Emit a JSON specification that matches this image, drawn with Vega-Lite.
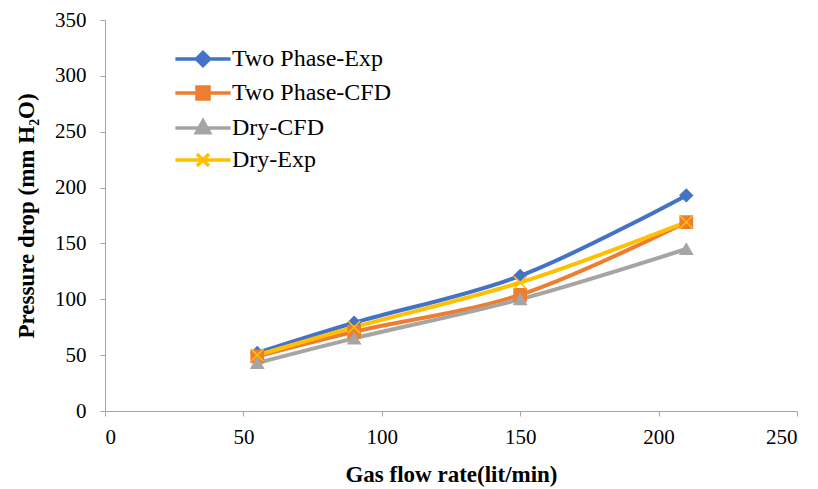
{
  "$schema": "https://vega.github.io/schema/vega-lite/v6.json",
  "width": 692,
  "height": 391,
  "autosize": {"type": "none"},
  "padding": {"left": 105, "top": 20, "right": 21, "bottom": 78},
  "background": "white",
  "config": {
    "view": {"stroke": null},
    "font": "Liberation Serif",
    "axis": {
      "grid": false,
      "domainColor": "#a6a6a6",
      "tickColor": "#a6a6a6",
      "domainWidth": 1,
      "tickSize": 5,
      "labelFont": "Liberation Serif",
      "labelFontSize": 21,
      "labelColor": "#000000",
      "titleFont": "Liberation Serif",
      "titleFontSize": 23,
      "titleFontWeight": "bold",
      "titleColor": "#000000"
    },
    "legend": {
      "orient": "none", "legendX": 86, "legendY": 27, "title": null,
      "symbolSize": 144, "symbolStrokeWidth": 3.5, "symbolOpacity": 1,
      "labelFont": "Liberation Serif", "labelFontSize": 24, "labelColor": "#000000",
      "labelOffset": 17, "rowPadding": 7, "padding": 0
    }
  },
  "data": {
    "values": [
      {"rate": 55, "dp": 52, "series": "Two Phase-Exp"},
      {"rate": 90, "dp": 79, "series": "Two Phase-Exp"},
      {"rate": 150, "dp": 121, "series": "Two Phase-Exp"},
      {"rate": 210, "dp": 193, "series": "Two Phase-Exp"},
      {"rate": 55, "dp": 49, "series": "Two Phase-CFD"},
      {"rate": 90, "dp": 71, "series": "Two Phase-CFD"},
      {"rate": 150, "dp": 104, "series": "Two Phase-CFD"},
      {"rate": 210, "dp": 169, "series": "Two Phase-CFD"},
      {"rate": 55, "dp": 43, "series": "Dry-CFD"},
      {"rate": 90, "dp": 65, "series": "Dry-CFD"},
      {"rate": 150, "dp": 100, "series": "Dry-CFD"},
      {"rate": 210, "dp": 145, "series": "Dry-CFD"},
      {"rate": 55, "dp": 50, "series": "Dry-Exp"},
      {"rate": 90, "dp": 75, "series": "Dry-Exp"},
      {"rate": 150, "dp": 115, "series": "Dry-Exp"},
      {"rate": 210, "dp": 169, "series": "Dry-Exp"}
    ]
  },
  "encoding": {
    "x": {
      "field": "rate", "type": "quantitative",
      "scale": {"domain": [0, 250], "nice": false},
      "axis": {"values": [0, 50, 100, 150, 200, 250], "labelPadding": 10, "labelFont": "Liberation Serif", "title": "Gas flow rate(lit/min)", "titlePadding": 16}
    },
    "y": {
      "field": "dp", "type": "quantitative",
      "scale": {"domain": [0, 350], "nice": false},
      "axis": {"values": [0, 50, 100, 150, 200, 250, 300, 350], "labelPadding": 14, "labelFont": "Liberation Serif", "title": "Pressure drop (mm H₂O)", "titlePadding": 16}
    }
  },
  "layer": [
    {
      "mark": {"type": "line", "interpolate": "catmull-rom", "strokeWidth": 4},
      "encoding": {
        "stroke": {
          "field": "series", "type": "nominal",
          "scale": {"domain": ["Two Phase-Exp", "Two Phase-CFD", "Dry-CFD", "Dry-Exp"], "range": ["#4472C4", "#ED7D31", "#A5A5A5", "#FFC000"]},
          "legend": null
        }
      }
    },
    {
      "mark": {"type": "point", "filled": true, "size": 150, "strokeWidth": 1.5, "opacity": 1},
      "encoding": {
        "fill": {
          "field": "series", "type": "nominal",
          "scale": {"domain": ["Two Phase-Exp", "Two Phase-CFD", "Dry-CFD", "Dry-Exp"], "range": ["#4472C4", "#ED7D31", "#A5A5A5", "#FFC000"]},
          "legend": null
        },
        "stroke": {"field": "series", "type": "nominal",
          "scale": {"domain": ["Two Phase-Exp", "Two Phase-CFD", "Dry-CFD", "Dry-Exp"], "range": ["#4472C4", "#ED7D31", "#A5A5A5", "#FFC000"]},
          "legend": null},
        "shape": {
          "field": "series", "type": "nominal",
          "scale": {"domain": ["Two Phase-Exp", "Two Phase-CFD", "Dry-CFD", "Dry-Exp"], "range": ["diamond", "square", "triangle-up", "M-1,-1L1,1M-1,1L1,-1"]},
          "legend": null
        }
      }
    },
    {
      "mark": {"type": "point", "filled": true, "size": 130, "opacity": 0},
      "encoding": {
        "fill": {"field": "series", "type": "nominal",
          "scale": {"domain": ["Two Phase-Exp", "Two Phase-CFD", "Dry-CFD", "Dry-Exp"], "range": ["#4472C4", "#ED7D31", "#A5A5A5", "#FFC000"]}},
        "stroke": {"field": "series", "type": "nominal",
          "scale": {"domain": ["Two Phase-Exp", "Two Phase-CFD", "Dry-CFD", "Dry-Exp"], "range": ["#4472C4", "#ED7D31", "#A5A5A5", "#FFC000"]}},
        "shape": {
          "field": "series", "type": "nominal",
          "scale": {"domain": ["Two Phase-Exp", "Two Phase-CFD", "Dry-CFD", "Dry-Exp"], "range": [
            "M-4.6,0H4.6M0,-1.1L1.1,0L0,1.1L-1.1,0Z",
            "M-4.6,0H4.6M-1,-1H1V1H-1Z",
            "M-4.6,0H4.6M0,-1.2L1.1,0.8H-1.1Z",
            "M-4.6,0H4.6M-1,-1L1,1M-1,1L1,-1"
          ]},
          "legend": {"encode": {"symbols": {"update": {"opacity": {"value": 1}}}}}
        }
      }
    }
  ],
  "resolve": {"scale": {"shape": "independent", "fill": "independent", "stroke": "independent"}}
}
